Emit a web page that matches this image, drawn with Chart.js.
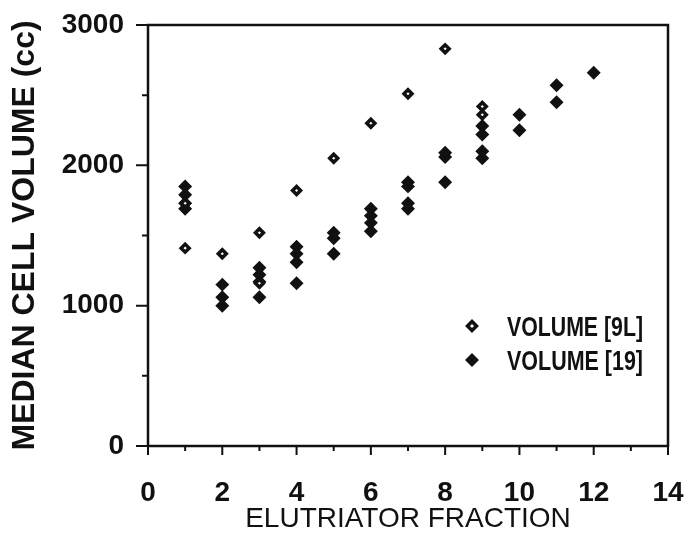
<!DOCTYPE html>
<html>
<head>
<meta charset="utf-8">
<script src="https://cdn.jsdelivr.net/npm/chart.js@4.4.1/dist/chart.umd.min.js"></script>
<style>
  html, body { margin: 0; padding: 0; background: #fff; overflow: hidden; }
  canvas { display: block; }
</style>
</head>
<body>
<canvas id="grafica" width="689" height="533"></canvas>
<script>
// elutriator fraction vs median cell volume, two cell lines
var fraccion_9L = [1, 1, 2, 3, 3, 4, 5, 6, 7, 8, 9, 9];
var volumen_9L = [1410, 1730, 1370, 1520, 1160, 1820, 2050, 2300, 2510, 2830, 2420, 2360];

var fraccion_19 = [1, 1, 1, 1, 2, 2, 2, 3, 3, 3, 3, 4, 4, 4, 4, 5, 5, 5,
  6, 6, 6, 6, 7, 7, 7, 7, 8, 8, 8, 9, 9, 9, 9, 10, 10, 11, 11, 12];
var volumen_19 = [1850, 1790, 1730, 1690, 1150, 1060, 1000, 1270, 1220, 1170, 1060,
  1420, 1370, 1310, 1160, 1520, 1480, 1370, 1690, 1640, 1590, 1530,
  1880, 1850, 1730, 1690, 2090, 2060, 1880, 2280, 2220, 2100, 2050,
  2360, 2250, 2570, 2450, 2660];

var etiquetas = ['VOLUME [9L]', 'VOLUME [19]'];
var ticks_x = [0, 2, 4, 6, 8, 10, 12, 14];
var ticks_y = [0, 1000, 2000, 3000];

var tinta = '#111';

function puntos(xs, ys) {
  return xs.map(function (x, i) { return { x: x, y: ys[i] }; });
}

function diamante(ctx, x, y, relleno) {
  ctx.beginPath();
  ctx.moveTo(x, y - 4.5);
  ctx.lineTo(x + 4.5, y);
  ctx.lineTo(x, y + 4.5);
  ctx.lineTo(x - 4.5, y);
  ctx.closePath();
  ctx.fillStyle = relleno;
  ctx.fill();
  ctx.stroke();
}

// frame, tick marks and the legend box drawn by hand
var marco = {
  id: 'marco',
  afterDraw: function (chart) {
    var ctx = chart.ctx, a = chart.chartArea;
    var sx = chart.scales.x, sy = chart.scales.y;
    ctx.save();
    ctx.strokeStyle = tinta;
    ctx.lineWidth = 2.5;
    ctx.beginPath();
    ctx.moveTo(a.left, a.top);
    ctx.lineTo(a.right, a.top);
    ctx.lineTo(a.right, a.bottom);
    ctx.lineTo(a.left, a.bottom);
    ctx.closePath();
    ctx.stroke();

    ctx.lineWidth = 2;
    ctx.beginPath();
    for (var v = 0; v <= 14; v++) {
      var px = sx.getPixelForValue(v);
      var l = ticks_x.indexOf(v) >= 0 ? 9 : 5;
      ctx.moveTo(px, a.bottom);
      ctx.lineTo(px, a.bottom + l);
    }
    for (var w = 0; w <= 3000; w += 500) {
      var py = sy.getPixelForValue(w);
      var m = ticks_y.indexOf(w) >= 0 ? 12 : 6;
      ctx.moveTo(a.left, py);
      ctx.lineTo(a.left - m, py);
    }
    ctx.stroke();

    // legend
    var filas = [327, 361];
    var ds = chart.data.datasets;
    ctx.font = 'bold 28px "Liberation Sans"';
    ctx.textBaseline = 'middle';
    ctx.lineWidth = 3.5;
    [ds[1], ds[0]].forEach(function (d, i) {
      var y = filas[i];
      diamante(ctx, 472, y - 1, d.backgroundColor);
      ctx.fillStyle = tinta;
      ctx.fillText(d.label, 507, y + 1, 136);
    });
    ctx.restore();
  }
};

var config = {
  type: 'scatter',
  data: {
    datasets: [
      {
        label: etiquetas[1],
        data: puntos(fraccion_19, volumen_19),
        pointStyle: 'rectRot',
        pointRadius: 4.5,
        pointBorderWidth: 3.5,
        backgroundColor: tinta,
        borderColor: tinta,
        order: 2
      },
      {
        label: etiquetas[0],
        data: puntos(fraccion_9L, volumen_9L),
        pointStyle: 'rectRot',
        pointRadius: 4,
        pointBorderWidth: 3.5,
        backgroundColor: '#fff',
        borderColor: tinta,
        order: 1
      }
    ]
  },
  options: {
    responsive: false,
    animation: false,
    layout: { padding: { top: 25, right: 21, left: 0, bottom: 0 } },
    plugins: {
      legend: { display: false },
      tooltip: { enabled: false }
    },
    scales: {
      x: {
        type: 'linear',
        min: 0,
        max: 14,
        afterFit: function (s) {
          s.height = 87;
          s.paddingLeft = 0;
          s.paddingRight = 0;
        },
        afterBuildTicks: function (s) {
          s.ticks = ticks_x.map(function (v) { return { value: v }; });
        },
        grid: { display: false },
        border: { display: false },
        ticks: {
          color: tinta,
          padding: 22,
          maxRotation: 0,
          autoSkip: false,
          callback: function (v) { return String(v); },
          font: { family: 'Liberation Sans', size: 28, weight: 'bold' }
        },
        title: {
          display: true,
          text: 'ELUTRIATOR FRACTION',
          color: tinta,
          padding: { top: 0, bottom: 0 },
          font: { family: 'Liberation Sans', size: 28, lineHeight: 1 }
        }
      },
      y: {
        min: 0,
        max: 3000,
        afterFit: function (s) {
          s.width = 148;
          s.paddingTop = 0;
          s.paddingBottom = 0;
        },
        afterBuildTicks: function (s) {
          s.ticks = ticks_y.map(function (v) { return { value: v }; });
        },
        grid: { display: false },
        border: { display: false },
        ticks: {
          color: tinta,
          padding: 16,
          callback: function (v) { return String(v); },
          font: { family: 'Liberation Sans', size: 28, weight: 'bold' }
        },
        title: {
          display: true,
          text: 'MEDIAN CELL VOLUME (cc)',
          color: tinta,
          padding: { top: 6, bottom: 0 },
          font: { family: 'Liberation Sans', size: 32, weight: 'bold', lineHeight: 1.2 }
        }
      }
    }
  },
  plugins: [marco]
};

var myChart = new Chart(document.getElementById('grafica'), config);
</script>
</body>
</html>
